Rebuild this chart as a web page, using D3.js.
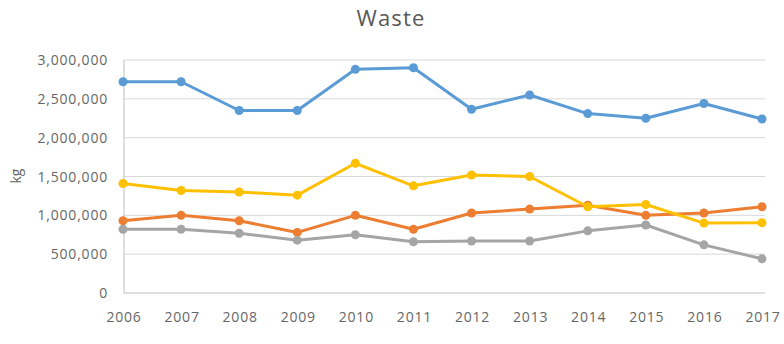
<!DOCTYPE html>
<html><head><meta charset="utf-8">
<script src="https://cdn.jsdelivr.net/npm/d3@7"></script>
<style>body{margin:0;background:#fff}svg{display:block}</style>
</head><body><svg id="c" width="784" height="344"></svg>
<script>
const years = ["2006","2007","2008","2009","2010","2011","2012","2013","2014","2015","2016","2017"];
const seriesBlue   = [2720000,2720000,2350000,2350000,2880000,2900000,2365000,2550000,2310000,2250000,2440000,2240000];
const seriesOrange = [930000,1000000,930000,780000,1000000,820000,1030000,1080000,1130000,1000000,1030000,1110000];
const seriesGray   = [820000,820000,770000,680000,750000,660000,670000,670000,800000,875000,620000,440000];
const seriesYellow = [1410000,1320000,1300000,1260000,1670000,1380000,1520000,1500000,1110000,1140000,900000,905000];
const yTicks = [0,500000,1000000,1500000,2000000,2500000,3000000];
const colors = ["#5B9BD5","#ED7D31","#A5A5A5","#FFC000"];
const title = "Waste", yLabel = "kg";

const svg = d3.select("#c");
const font = "'Open Sans', 'Liberation Sans', sans-serif";
const x = d3.scalePoint().domain(years).range([123, 762]);
const y = d3.scaleLinear().domain([0,3000000]).range([293, 60]);

svg.append("g").selectAll("line").data(yTicks).join("line")
  .attr("x1",124).attr("x2",765)
  .attr("y1",d=>y(d)).attr("y2",d=>y(d))
  .attr("stroke",d=>d===0?"#BFBFBF":"#D9D9D9").attr("stroke-width",1);
svg.append("line").attr("x1",124).attr("x2",124).attr("y1",60).attr("y2",293)
  .attr("stroke","#BFBFBF");

const fmt = d3.format(",");
svg.append("g").selectAll("text").data(yTicks).join("text")
  .attr("x",108).attr("y",d=>y(d)+5)
  .attr("text-anchor","end").attr("font-family",font).attr("font-size",14)
  .attr("letter-spacing",0.8)
  .attr("fill","#666666").text(d=>fmt(d));
svg.append("g").selectAll("text").data(years).join("text")
  .attr("x",d=>x(d)+1).attr("y",322)
  .attr("text-anchor","middle").attr("font-family",font).attr("font-size",14)
  .attr("letter-spacing",0.8)
  .attr("fill","#666666").text(d=>d);

svg.append("text").attr("x",391).attr("y",26).attr("text-anchor","middle")
  .attr("font-family",font).attr("font-size",22).attr("letter-spacing",1.2)
  .attr("fill","#595959").text(title);
svg.append("text").attr("transform","translate(21,176) rotate(-90)")
  .attr("text-anchor","middle").attr("font-family",font).attr("font-size",14)
  .attr("fill","#666666").text(yLabel);

const all = [seriesBlue, seriesOrange, seriesGray, seriesYellow];
const line = d3.line().x((d,i)=>x(years[i])).y(d=>y(d));
all.forEach((s,k)=>{
  const g = svg.append("g");
  g.append("path").attr("d",line(s)).attr("fill","none")
    .attr("stroke",colors[k]).attr("stroke-width",3).attr("stroke-linejoin","round");
  g.selectAll("circle").data(s).join("circle")
    .attr("cx",(d,i)=>x(years[i])).attr("cy",d=>y(d)).attr("r",4.5)
    .attr("fill",colors[k]);
});
</script></body></html>
